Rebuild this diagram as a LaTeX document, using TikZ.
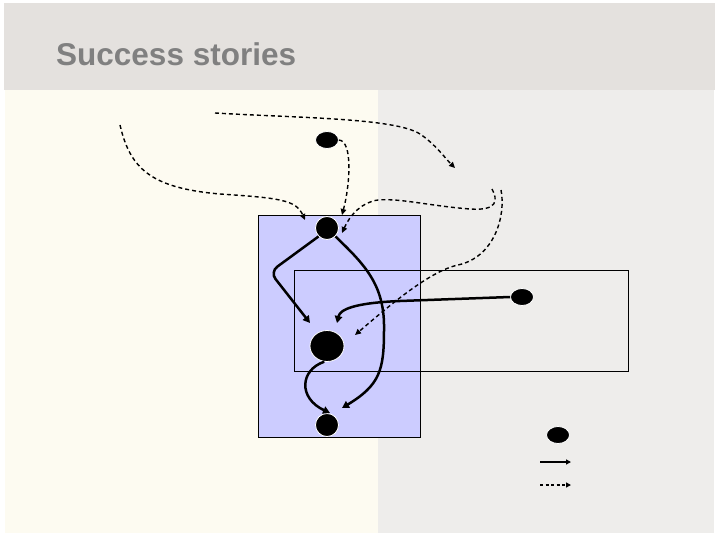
\documentclass[tikz,border=0pt]{standalone}
\usepackage{fontspec}
\setmainfont{Liberation Sans}
\usetikzlibrary{shapes.geometric,arrows.meta}
\definecolor{hdr}{RGB}{228,225,222}
\definecolor{cream}{RGB}{253,251,241}
\definecolor{lgray}{RGB}{238,237,235}
\definecolor{boxblue}{RGB}{204,204,255}
\definecolor{titlegray}{RGB}{128,128,128}
\tikzset{
  dot/.style={ellipse,fill=black,draw=white,line width=0.8pt,inner sep=0pt},
  solidarrow/.style={line width=2.5pt,-{Triangle[length=7pt,width=7.5pt]}},
  dasharrow/.style={line width=1.4pt,dash pattern=on 4pt off 3pt,-{Triangle[length=6pt,width=5.5pt]}},
  legsolid/.style={line width=1.6pt,-{Triangle[length=5pt,width=5pt]}},
  legdash/.style={line width=1.6pt,dash pattern=on 3pt off 2.5pt,-{Triangle[length=5pt,width=5pt]}},
}
\begin{document}
\begin{tikzpicture}[x=1pt,y=-1pt]
\useasboundingbox (0,0) rectangle (720,540);
\fill[white] (0,0) rectangle (720,540);
% backgrounds
\fill[hdr] (4,3) rectangle (715,90);
\fill[cream] (5,90) rectangle (378,533);
\fill[lgray] (378,90) rectangle (714,533);
\node[anchor=base west,text=titlegray,font=\bfseries\fontsize{31.5}{34}\selectfont,inner sep=0pt] (title) at (56,65.5) {Success stories};
% boxes
\draw[fill=boxblue,line width=0.8pt] (258,215) rectangle (420,437);
\draw[line width=0.8pt] (294,270) rectangle (628,371);
% nodes
\node[dot,minimum width=23pt,minimum height=17pt] (A) at (327,140) {};
\node[dot,minimum width=23pt,minimum height=23pt] (B) at (327,228) {};
\node[dot,minimum width=34pt,minimum height=31pt] (C) at (327,346) {};
\node[dot,minimum width=23pt,minimum height=23pt] (D) at (327,425) {};
\node[dot,minimum width=23pt,minimum height=17pt] (E) at (522,297) {};
\node[dot,minimum width=23pt,minimum height=17pt] (L) at (558,435) {};
% free ends
\coordinate (p1) at (120,125);
\coordinate (p2) at (215,113);
\coordinate (q2) at (455,168);
\coordinate (p4) at (492,189);
\coordinate (p5) at (501,190);
\coordinate (Bin1) at (305,220);
\coordinate (Bin3) at (342,215);
\coordinate (Bin4) at (342,233);
\coordinate (Cin1) at (310,323);
\coordinate (Cin2) at (337,323);
\coordinate (Cin3) at (355,335);
\coordinate (Din1) at (342,408);
\coordinate (Din2) at (330,413);
\coordinate (l1) at (540,462);
\coordinate (l1e) at (571,462);
\coordinate (l2) at (540,485);
\coordinate (l2e) at (571,485);
% dashed connectors
\draw[dasharrow] (p1) .. controls (130,168) and (150,188) .. (220,194) .. controls (280,198) and (296,200) .. (Bin1);
\draw[dasharrow] (p2) .. controls (300,118) and (395,118) .. (420,134) .. controls (435,144) and (445,158) .. (q2);
\draw[dasharrow] (A.east) .. controls (353,141) and (350,185) .. (Bin3);
\draw[dasharrow] (p4) .. controls (498,200) and (498,211) .. (470,209) .. controls (430,206) and (400,198) .. (378,200) .. controls (362,202) and (350,215) .. (Bin4);
\draw[dasharrow] (p5) .. controls (506,215) and (495,257) .. (458,265) .. controls (430,271) and (390,305) .. (Cin3);
% solid connectors
\draw[solidarrow,rounded corners=9pt] (B.225) -- (270,272) -- (Cin1);
\draw[solidarrow] (B.-45) .. controls (365,265) and (385,285) .. (384,330) .. controls (384,370) and (380,385) .. (Din1);
\draw[solidarrow] (E.west) -- (400,301) .. controls (352,303) and (340,310) .. (Cin2);
\draw[solidarrow] (C.-100) .. controls (300,370) and (298,398) .. (Din2);
% legend
\draw[legsolid] (l1) -- (l1e);
\draw[legdash] (l2) -- (l2e);
\end{tikzpicture}
\end{document}
